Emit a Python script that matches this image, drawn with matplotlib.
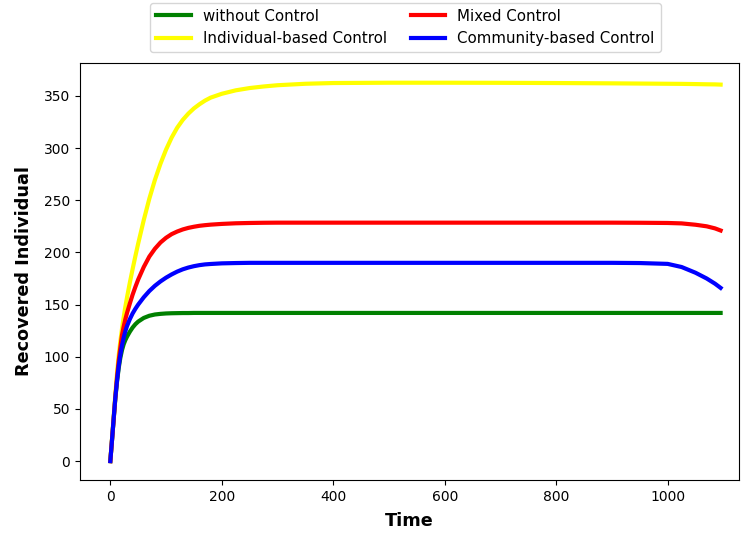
import numpy as np
from matplotlib import pyplot as plt

# tiempo (dias)
t = [0, 3, 6, 9, 12, 15, 18, 21, 24, 27, 30, 35, 40, 45, 50, 60, 70, 80, 90, 100,
     110, 120, 130, 140, 150, 160, 170, 180, 200, 225, 250, 275, 300, 350, 400,
     500, 600, 700, 800, 900, 950, 1000, 1025, 1050, 1070, 1085, 1095]

# recuperados por escenario
sin_control = [0, 20, 40, 60, 76, 89, 99, 106.5, 112, 116, 119.3, 124, 128, 131.2,
               133.7, 137.2, 139.3, 140.5, 141.1, 141.5, 141.7, 141.8, 141.9, 141.9, 142,
               142, 142, 142, 142, 142, 142, 142, 142, 142, 142, 142, 142, 142, 142,
               142, 142, 142, 142, 142, 142, 142, 142]
individual = [0, 21, 43, 64, 84, 101, 115, 127, 138, 148, 157, 171, 184, 196.5, 208.5,
              231, 251.5, 269.5, 285, 298.5, 310, 319.5, 327, 333, 338, 342, 345.5,
              348.3, 352, 355.3, 357.5, 359, 360.2, 361.6, 362.3, 362.6, 362.6, 362.5,
              362.3, 362.0, 361.8, 361.6, 361.5, 361.3, 361.1, 361.0, 360.8]
mixto = [0, 20, 40, 61, 80, 96, 109, 121, 129, 136, 142, 151, 159.5, 167, 174, 186,
         196, 203.5, 209.5, 214, 217.5, 220, 222, 223.5, 224.6, 225.5, 226.1, 226.6,
         227.3, 227.9, 228.2, 228.4, 228.5, 228.5, 228.5, 228.5, 228.5, 228.5, 228.5,
         228.5, 228.4, 228.2, 227.8, 226.5, 225, 223, 221]
comunidad = [0, 20, 41, 61, 77, 91, 102, 111, 118.5, 124.5, 129.5, 136, 141.5, 146,
             150, 157, 163, 168, 172.2, 175.8, 178.9, 181.6, 183.8, 185.5, 186.8, 187.8,
             188.5, 188.9, 189.5, 189.8, 190, 190, 190, 190, 190, 190, 190, 190, 190,
             190, 189.8, 189, 186, 180.5, 175, 170, 166]

fig = plt.figure(figsize=(7.41, 5.35), dpi=100)
ax = fig.add_axes([80/741, 1-480/535, 659/741, 417/535])

ax.plot(t, sin_control, color="green", lw=3, label="without Control")
ax.plot(t, individual, color="yellow", lw=3, label="Individual-based Control")
ax.plot(t, mixto, color="red", lw=3, label="Mixed Control")
ax.plot(t, comunidad, color="blue", lw=3, label="Community-based Control")

ax.set_xlim(-54.4, 1128)
ax.set_ylim(-18.1, 381.5)
ax.set_xlabel("Time", fontsize=12.7, fontweight="bold", labelpad=6)
ax.set_ylabel("Recovered Individual", fontsize=12.7, fontweight="bold", labelpad=8)

fig.legend(loc="upper center", bbox_to_anchor=(0.547, 1.009), ncol=2,
           handlelength=2.3, fontsize=10.8, columnspacing=1.6)

fig.savefig("out.png", dpi=100)
